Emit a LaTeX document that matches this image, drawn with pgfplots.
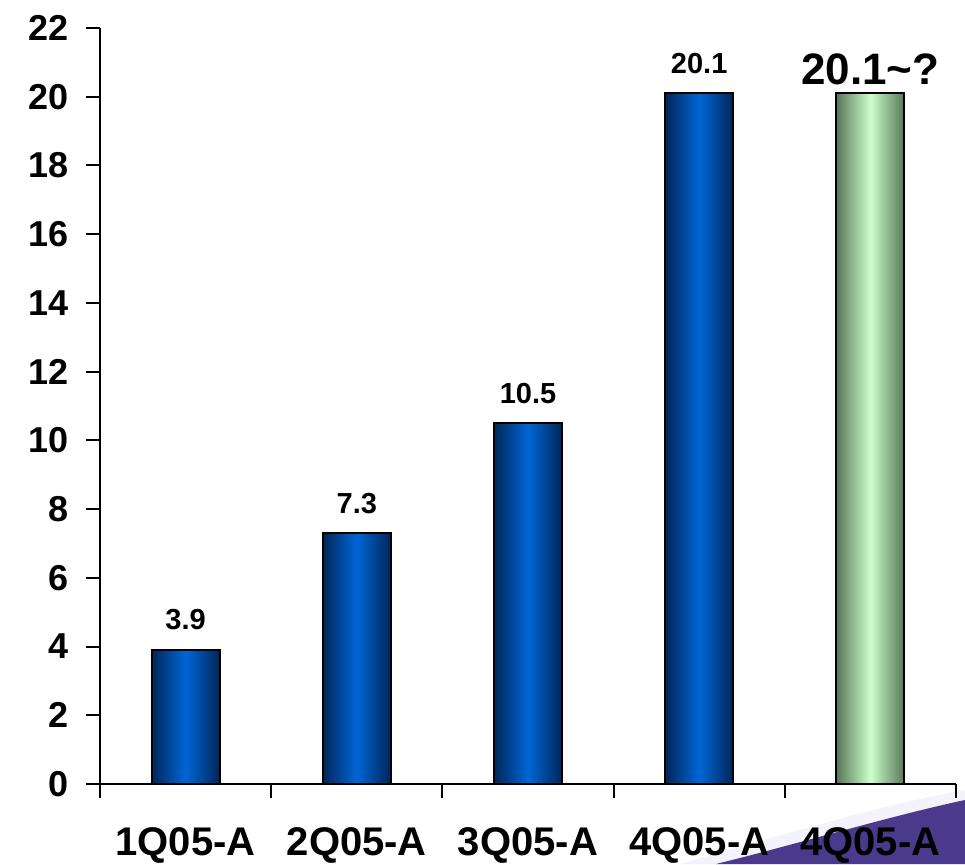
\documentclass[border=0pt]{standalone}
\usepackage{pgfplots}
\pgfplotsset{compat=1.18}
\usepackage{fontspec}
\setmainfont{Liberation Sans}
\definecolor{bluedark}{RGB}{0,38,88}
\definecolor{bluemid}{RGB}{0,102,214}
\definecolor{greendark}{RGB}{88,118,88}
\definecolor{greenmid}{RGB}{204,255,204}
\definecolor{swoosh}{RGB}{75,58,140}
\definecolor{glow}{RGB}{244,242,250}
\begin{document}
\begin{tikzpicture}
\path[use as bounding box] (-50pt,-40pt) rectangle (432.5pt,392pt);
\fill[glow] (290pt,-40pt) .. controls (340pt,-26pt) and (392pt,-10pt) .. (432.5pt,-3pt) -- (432.5pt,-40pt) -- cycle;
\fill[swoosh] (308pt,-40pt) .. controls (345pt,-31pt) and (395pt,-16pt) .. (432.5pt,-8pt) -- (432.5pt,-40pt) -- cycle;
\begin{axis}[
  at={(0,0)}, anchor=south west,
  scale only axis, width=428pt, height=378pt,
  xmin=-0.5, xmax=4.5, ymin=0, ymax=22,
  axis x line*=bottom, axis y line*=left,
  ytick={0,2,...,22},
  xtick={0,1,2,3,4},
  xticklabels={1Q05-A,2Q05-A,3Q05-A,4Q05-A,4Q05-A},
  major x tick style={draw=none},
  minor xtick={-0.5,0.5,1.5,2.5,3.5,4.5},
  tick align=outside,
  major tick length=7pt, minor tick length=7pt,
  axis line style={black, line width=1pt},
  every tick/.style={black, line width=1pt},
  minor x tick style={black, line width=1pt},
  /pgf/number format/assume math mode=true,
  yticklabel style={font=\fontsize{18}{18}\selectfont\bfseries, xshift=-5pt},
  xticklabel style={font=\fontsize{20}{20}\selectfont\bfseries, yshift=-11pt},
  ybar, bar width=34pt, bar shift=0pt,
  clip=false,
  bluebar/.style={draw=black, line width=1pt, left color=bluedark, right color=bluedark, middle color=bluemid,
    nodes near coords, nodes near coords style={font=\fontsize{14.5}{14.5}\selectfont\bfseries, anchor=south, yshift=6pt, text=black},
    point meta=y},
]
\addplot[bluebar] coordinates {(0,3.9)};
\addplot[bluebar] coordinates {(1,7.3)};
\addplot[bluebar] coordinates {(2,10.5)};
\addplot[bluebar] coordinates {(3,20.1)};
\addplot[draw=black, line width=1pt, left color=greendark, right color=greendark, middle color=greenmid,
  nodes near coords={20.1\textasciitilde?}, nodes near coords style={font=\fontsize{22}{22}\selectfont\bfseries, anchor=south, yshift=0.5pt, text=black}]
  coordinates {(4,20.1)};
\end{axis}
\end{tikzpicture}
\end{document}
